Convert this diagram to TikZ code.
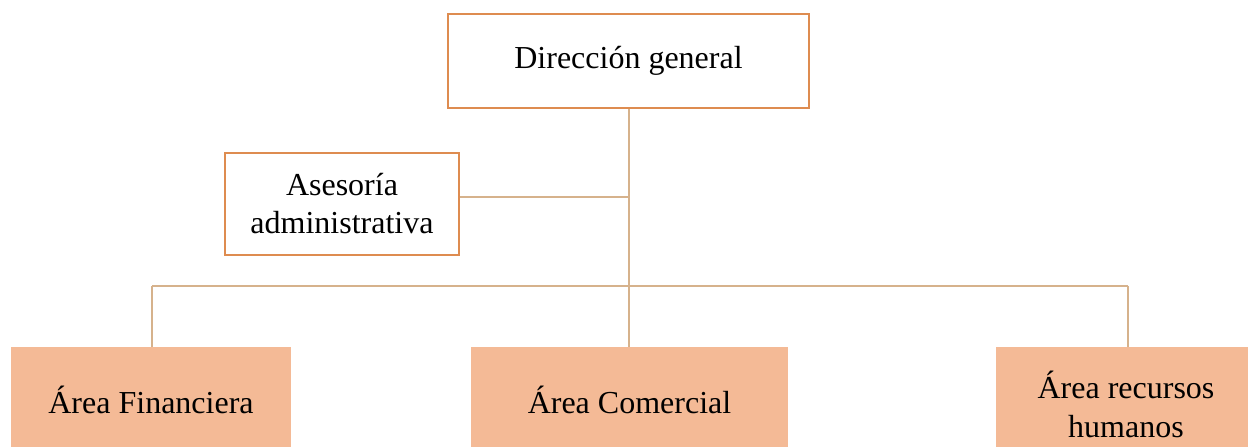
\documentclass[tikz,border=0pt]{standalone}
\usepackage{fontspec}
\setmainfont{Liberation Serif}
\definecolor{boxline}{RGB}{222,140,80}
\definecolor{conn}{RGB}{214,178,140}
\definecolor{areafill}{RGB}{244,186,150}
\begin{document}
\begin{tikzpicture}[x=0.5pt,y=-0.5pt,
  topbox/.style={draw=boxline,line width=0.9pt,fill=white,inner sep=0pt,font=\fontsize{16}{19}\selectfont,align=center},
  areabox/.style={fill=areafill,draw=none,inner sep=0pt,font=\fontsize{16}{19.5}\selectfont,align=center},
  connector/.style={draw=conn,line width=0.6pt}]
\clip (0,0) rectangle (1248,446);
\useasboundingbox (0,0) rectangle (1248,446);
\node[topbox,minimum width=180.5pt,minimum height=47pt] (dg) at (628.5,61) {Dirección general};
\node[topbox,minimum width=117pt,minimum height=51pt] (as) at (342,204) {Asesoría\\administrativa};
\node[areabox,minimum width=140pt,minimum height=53pt] (af) at (151,400) {Área Financiera};
\node[areabox,minimum width=158.5pt,minimum height=53pt] (ac) at (629.5,400) {Área Comercial};
\node[areabox,minimum width=130pt,minimum height=57pt] (ar) at (1126,404) {Área recursos\\humanos};
\coordinate (j1) at (629,197);
\coordinate (j2) at (629,286);
\coordinate (bl) at (152,286);
\coordinate (br) at (1128,286);
\draw[connector] (dg.south -| j1) -- (j2);
\draw[connector] (as.east |- j1) -- (j1);
\draw[connector] (bl) -- (br);
\draw[connector] (bl) -- (bl |- af.north);
\draw[connector] (j2) -- (j2 |- ac.north);
\draw[connector] (br) -- (br |- ar.north);
\end{tikzpicture}
\end{document}
